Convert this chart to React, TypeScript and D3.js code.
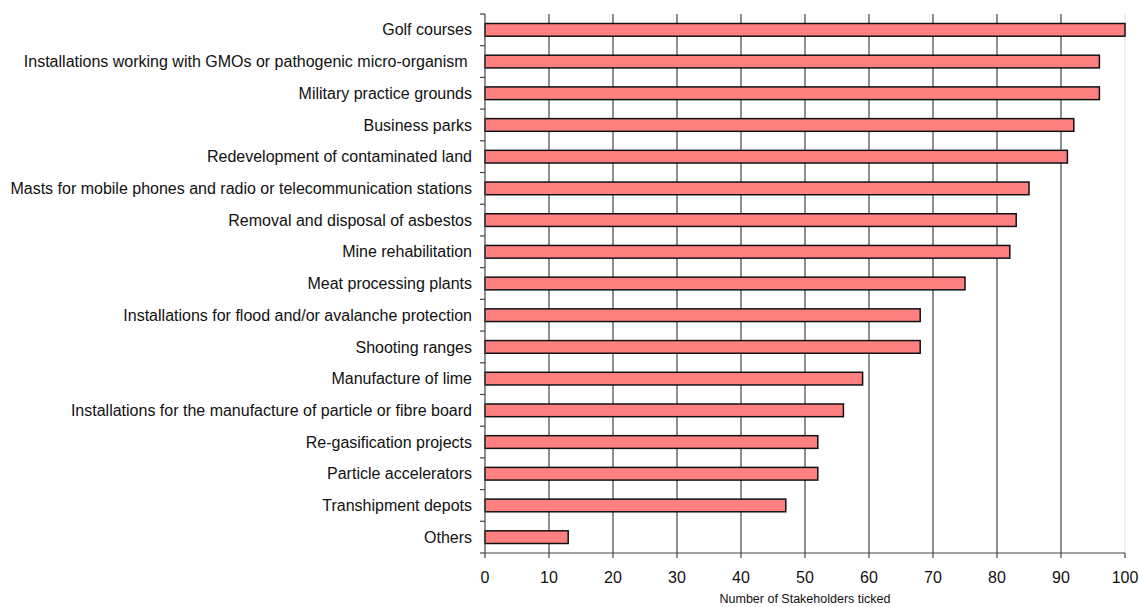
import React, { useEffect, useRef } from 'react';
import * as d3 from 'd3';

const categories = [
  'Golf courses',
  'Installations working with GMOs or pathogenic micro-organism ',
  'Military practice grounds',
  'Business parks',
  'Redevelopment of contaminated land',
  'Masts for mobile phones and radio or telecommunication stations',
  'Removal and disposal of asbestos',
  'Mine rehabilitation',
  'Meat processing plants',
  'Installations for flood and/or avalanche protection',
  'Shooting ranges',
  'Manufacture of lime',
  'Installations for the manufacture of particle or fibre board',
  'Re-gasification projects',
  'Particle accelerators',
  'Transhipment depots',
  'Others',
];

const values = [100, 96, 96, 92, 91, 85, 83, 82, 75, 68, 68, 59, 56, 52, 52, 47, 13];

const xTicks = [0, 10, 20, 30, 40, 50, 60, 70, 80, 90, 100];

const axisTitle = 'Number of Stakeholders ticked';

export default function App() {
  const ref = useRef<SVGSVGElement>(null);

  useEffect(() => {
    const width = 1139;
    const height = 607;
    const left = 485;
    const right = 1125;
    const top = 14;
    const bottom = 553;
    const font = 'Liberation Sans, Arial, sans-serif';

    const svg = d3.select(ref.current);
    svg.selectAll('*').remove();
    svg.attr('width', width).attr('height', height);

    const x = d3.scaleLinear().domain([0, 100]).range([left, right]);
    const y = d3.scaleBand<string>().domain(categories).range([top, bottom]).paddingInner(0.6).paddingOuter(0.3);
    const band = d3.scaleBand<string>().domain(categories).range([top, bottom]);

    // grid lines
    svg.append('g')
      .selectAll('line')
      .data(xTicks.slice(1))
      .enter()
      .append('line')
      .attr('x1', d => x(d))
      .attr('x2', d => x(d))
      .attr('y1', top)
      .attr('y2', bottom)
      .attr('stroke', d => (d === 100 ? '#e6e6e6' : '#444'))
      .attr('stroke-width', 1.2);

    // bars
    svg.append('g')
      .selectAll('rect')
      .data(categories)
      .enter()
      .append('rect')
      .attr('x', x(0))
      .attr('y', d => y(d)!)
      .attr('width', (d, i) => x(values[i]) - x(0))
      .attr('height', y.bandwidth())
      .attr('fill', '#FF8080')
      .attr('stroke', '#111')
      .attr('stroke-width', 1.5);

    // y axis
    const yAxis = svg.append('g');
    yAxis.append('line')
      .attr('x1', left).attr('x2', left)
      .attr('y1', top).attr('y2', bottom)
      .attr('stroke', '#444').attr('stroke-width', 1.2);
    const yBounds = categories.map(c => band(c)!).concat([bottom]);
    yAxis.selectAll('line.tick')
      .data(yBounds)
      .enter()
      .append('line')
      .attr('class', 'tick')
      .attr('x1', left - 5).attr('x2', left)
      .attr('y1', d => d).attr('y2', d => d)
      .attr('stroke', '#444').attr('stroke-width', 1.2);
    yAxis.selectAll('text')
      .data(categories)
      .enter()
      .append('text')
      .attr('x', left - 13)
      .attr('y', d => band(d)! + band.bandwidth() / 2)
      .attr('dy', '0.35em')
      .attr('text-anchor', 'end')
      .attr('font-family', font)
      .attr('font-size', 16)
      .attr('fill', '#111')
      .style('white-space', 'pre')
      .text(d => d);

    // x axis
    const xAxis = svg.append('g');
    xAxis.append('line')
      .attr('x1', left).attr('x2', right)
      .attr('y1', bottom).attr('y2', bottom)
      .attr('stroke', '#444').attr('stroke-width', 1.2);
    xAxis.selectAll('line.tick')
      .data(xTicks)
      .enter()
      .append('line')
      .attr('class', 'tick')
      .attr('x1', d => x(d)).attr('x2', d => x(d))
      .attr('y1', bottom).attr('y2', bottom + 5)
      .attr('stroke', '#444').attr('stroke-width', 1.2);
    xAxis.selectAll('text')
      .data(xTicks)
      .enter()
      .append('text')
      .attr('x', d => x(d))
      .attr('y', 577)
      .attr('dy', '0.35em')
      .attr('text-anchor', 'middle')
      .attr('font-family', font)
      .attr('font-size', 16)
      .attr('fill', '#111')
      .text(d => d);

    svg.append('text')
      .attr('x', (left + right) / 2)
      .attr('y', 603)
      .attr('text-anchor', 'middle')
      .attr('font-family', font)
      .attr('font-size', 12.5)
      .attr('fill', '#111')
      .text(axisTitle);
  }, []);

  return (
    <div style={{ position: 'absolute', left: 0, top: 0 }}>
      <svg ref={ref} style={{ display: 'block' }} />
    </div>
  );
}
